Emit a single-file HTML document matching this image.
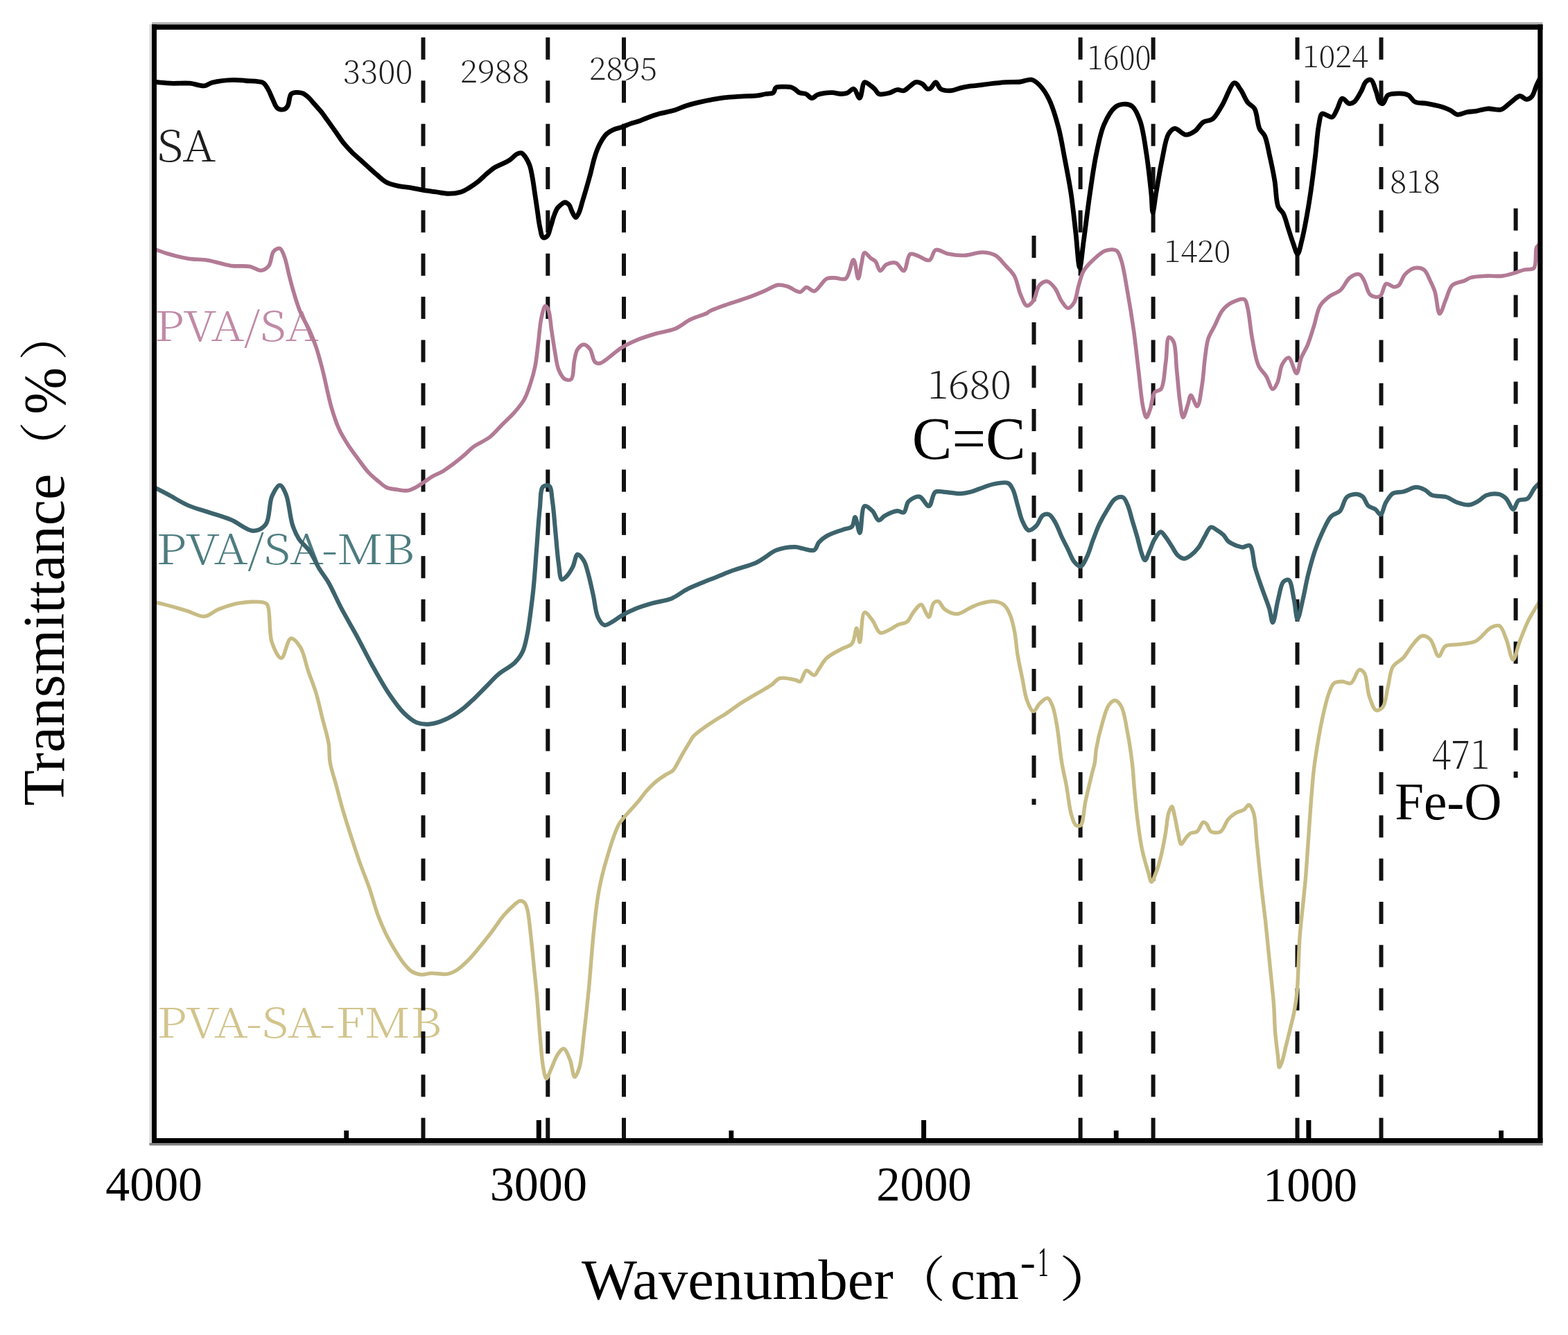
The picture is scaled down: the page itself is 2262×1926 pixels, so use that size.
<!DOCTYPE html>
<html><head><meta charset="utf-8"><title>FTIR spectra</title>
<style>html,body{margin:0;padding:0;background:#fff;} svg{display:block;}</style></head>
<body>
<svg xmlns="http://www.w3.org/2000/svg" width="2262" height="1926" viewBox="0 0 2262 1926">
<rect width="2262" height="1926" fill="#fff"/>
<text transform="translate(226.75 233.07) scale(0.6708 0.6171)" font-family="'Noto Serif CJK SC', 'Liberation Serif', serif" font-size="100" font-weight="300" fill="#1e1e1e">SA</text>
<text transform="translate(222.98 491.51) scale(0.6705 0.5934)" font-family="'Noto Serif CJK SC', 'Liberation Serif', serif" font-size="100" font-weight="300" fill="#c08aa6">PVA/SA</text>
<text transform="translate(225.60 813.51) scale(0.6833 0.5974)" font-family="'Noto Serif CJK SC', 'Liberation Serif', serif" font-size="100" font-weight="300" fill="#4d7c80">PVA/SA-MB</text>
<text transform="translate(226.22 1496.93) scale(0.6795 0.5868)" font-family="'Noto Serif CJK SC', 'Liberation Serif', serif" font-size="100" font-weight="300" fill="#d2c48c">PVA-SA-FMB</text>
<text transform="translate(494.84 119.84) scale(0.4711 0.4556)" font-family="'Noto Serif CJK SC', 'Liberation Serif', serif" font-size="100" font-weight="200" fill="#1e1e1e">3300</text>
<text transform="translate(664.07 119.11) scale(0.4660 0.4452)" font-family="'Noto Serif CJK SC', 'Liberation Serif', serif" font-size="100" font-weight="200" fill="#1e1e1e">2988</text>
<text transform="translate(850.01 115.40) scale(0.4581 0.4493)" font-family="'Noto Serif CJK SC', 'Liberation Serif', serif" font-size="100" font-weight="200" fill="#1e1e1e">2895</text>
<text transform="translate(1568.42 99.83) scale(0.4310 0.4722)" font-family="'Noto Serif CJK SC', 'Liberation Serif', serif" font-size="100" font-weight="200" fill="#1e1e1e">1600</text>
<text transform="translate(1878.90 97.43) scale(0.4443 0.4342)" font-family="'Noto Serif CJK SC', 'Liberation Serif', serif" font-size="100" font-weight="200" fill="#1e1e1e">1024</text>
<text transform="translate(1679.15 378.13) scale(0.4505 0.4342)" font-family="'Noto Serif CJK SC', 'Liberation Serif', serif" font-size="100" font-weight="200" fill="#1e1e1e">1420</text>
<text transform="translate(2004.92 278.16) scale(0.4553 0.4389)" font-family="'Noto Serif CJK SC', 'Liberation Serif', serif" font-size="100" font-weight="200" fill="#1e1e1e">818</text>
<text transform="translate(1338.00 575.45) scale(0.5670 0.5514)" font-family="'Noto Serif CJK SC', 'Liberation Serif', serif" font-size="100" font-weight="200" fill="#1e1e1e">1680</text>
<text transform="translate(1315.85 661.57) scale(0.8628 0.8627)" font-family="'Liberation Serif', 'Noto Serif CJK SC', serif" font-size="100" fill="#000">C=C</text>
<text transform="translate(2065.33 1108.87) scale(0.5245 0.5671)" font-family="'Noto Serif CJK SC', 'Liberation Serif', serif" font-size="100" font-weight="200" fill="#1e1e1e">471</text>
<text transform="translate(2012.25 1181.67) scale(0.7510 0.7642)" font-family="'Liberation Serif', 'Noto Serif CJK SC', serif" font-size="100" fill="#000">Fe-O</text>
<text transform="translate(152.20 1732.29) scale(0.6995 0.7045)" font-family="'Liberation Serif', 'Noto Serif CJK SC', serif" font-size="100" fill="#000">4000</text>
<text transform="translate(706.79 1732.30) scale(0.7010 0.7015)" font-family="'Liberation Serif', 'Noto Serif CJK SC', serif" font-size="100" fill="#000">3000</text>
<text transform="translate(1264.15 1732.30) scale(0.6880 0.7015)" font-family="'Liberation Serif', 'Noto Serif CJK SC', serif" font-size="100" fill="#000">2000</text>
<text transform="translate(1822.29 1733.29) scale(0.6786 0.7029)" font-family="'Liberation Serif', 'Noto Serif CJK SC', serif" font-size="100" fill="#000">1000</text>
<text transform="translate(839.10 1874.34) scale(0.8474 0.8310)" font-family="'Liberation Serif', 'Noto Serif CJK SC', serif" font-size="100" fill="#000">Wavenumber</text>
<text transform="translate(1287.06 1871.46) scale(0.7714 0.7043)" font-family="'Liberation Serif', 'Noto Serif CJK SC', serif" font-size="100" fill="#000">（</text>
<text transform="translate(1371.07 1873.68) scale(0.8085 0.8167)" font-family="'Liberation Serif', 'Noto Serif CJK SC', serif" font-size="100" fill="#000">cm</text>
<text transform="translate(1471.59 1841.40) scale(0.6769 0.6000)" font-family="'Liberation Serif', 'Noto Serif CJK SC', serif" font-size="100" fill="#000">-</text>
<text transform="translate(1497.22 1841.40) scale(0.3086 0.6045)" font-family="'Liberation Serif', 'Noto Serif CJK SC', serif" font-size="100" fill="#000">1</text>
<text transform="translate(1527.55 1871.46) scale(0.8929 0.7043)" font-family="'Liberation Serif', 'Noto Serif CJK SC', serif" font-size="100" fill="#000">）</text>
<text transform="translate(91.76 1162.38) rotate(-90) scale(0.8425 0.8394)" font-family="'Liberation Serif', 'Noto Serif CJK SC', serif" font-size="100" fill="#000">Transmittance</text>
<text transform="translate(89.29 682.82) rotate(-90) scale(0.7464 0.7011)" font-family="'Liberation Serif', 'Noto Serif CJK SC', serif" font-size="100" fill="#000">（</text>
<text transform="translate(93.85 597.64) rotate(-90) scale(0.8130 0.8746)" font-family="'Liberation Serif', 'Noto Serif CJK SC', serif" font-size="100" fill="#000">%</text>
<text transform="translate(89.29 520.23) rotate(-90) scale(0.7464 0.7011)" font-family="'Liberation Serif', 'Noto Serif CJK SC', serif" font-size="100" fill="#000">）</text>
<g fill="#111">
<rect x="607.5" y="54.0" width="6" height="32.0"/>
<rect x="607.5" y="116.3" width="6" height="32.0"/>
<rect x="607.5" y="178.7" width="6" height="32.0"/>
<rect x="607.5" y="241.0" width="6" height="32.0"/>
<rect x="607.5" y="303.4" width="6" height="32.0"/>
<rect x="607.5" y="365.8" width="6" height="32.0"/>
<rect x="607.5" y="428.1" width="6" height="32.0"/>
<rect x="607.5" y="490.5" width="6" height="32.0"/>
<rect x="607.5" y="552.8" width="6" height="32.0"/>
<rect x="607.5" y="615.2" width="6" height="32.0"/>
<rect x="607.5" y="677.5" width="6" height="32.0"/>
<rect x="607.5" y="739.9" width="6" height="32.0"/>
<rect x="607.5" y="802.2" width="6" height="32.0"/>
<rect x="607.5" y="864.6" width="6" height="32.0"/>
<rect x="607.5" y="926.9" width="6" height="32.0"/>
<rect x="607.5" y="989.3" width="6" height="32.0"/>
<rect x="607.5" y="1051.6" width="6" height="32.0"/>
<rect x="607.5" y="1114.0" width="6" height="32.0"/>
<rect x="607.5" y="1176.3" width="6" height="32.0"/>
<rect x="607.5" y="1238.6" width="6" height="32.0"/>
<rect x="607.5" y="1301.0" width="6" height="32.0"/>
<rect x="607.5" y="1363.3" width="6" height="32.0"/>
<rect x="607.5" y="1425.7" width="6" height="32.0"/>
<rect x="607.5" y="1488.0" width="6" height="32.0"/>
<rect x="607.5" y="1550.4" width="6" height="32.0"/>
<rect x="607.5" y="1612.7" width="6" height="29.3"/>
<rect x="787.3" y="54.0" width="6" height="32.0"/>
<rect x="787.3" y="116.3" width="6" height="32.0"/>
<rect x="787.3" y="178.7" width="6" height="32.0"/>
<rect x="787.3" y="241.0" width="6" height="32.0"/>
<rect x="787.3" y="303.4" width="6" height="32.0"/>
<rect x="787.3" y="365.8" width="6" height="32.0"/>
<rect x="787.3" y="428.1" width="6" height="32.0"/>
<rect x="787.3" y="490.5" width="6" height="32.0"/>
<rect x="787.3" y="552.8" width="6" height="32.0"/>
<rect x="787.3" y="615.2" width="6" height="32.0"/>
<rect x="787.3" y="677.5" width="6" height="32.0"/>
<rect x="787.3" y="739.9" width="6" height="32.0"/>
<rect x="787.3" y="802.2" width="6" height="32.0"/>
<rect x="787.3" y="864.6" width="6" height="32.0"/>
<rect x="787.3" y="926.9" width="6" height="32.0"/>
<rect x="787.3" y="989.3" width="6" height="32.0"/>
<rect x="787.3" y="1051.6" width="6" height="32.0"/>
<rect x="787.3" y="1114.0" width="6" height="32.0"/>
<rect x="787.3" y="1176.3" width="6" height="32.0"/>
<rect x="787.3" y="1238.6" width="6" height="32.0"/>
<rect x="787.3" y="1301.0" width="6" height="32.0"/>
<rect x="787.3" y="1363.3" width="6" height="32.0"/>
<rect x="787.3" y="1425.7" width="6" height="32.0"/>
<rect x="787.3" y="1488.0" width="6" height="32.0"/>
<rect x="787.3" y="1550.4" width="6" height="32.0"/>
<rect x="787.3" y="1612.7" width="6" height="29.3"/>
<rect x="897.0" y="54.0" width="6" height="32.0"/>
<rect x="897.0" y="116.3" width="6" height="32.0"/>
<rect x="897.0" y="178.7" width="6" height="32.0"/>
<rect x="897.0" y="241.0" width="6" height="32.0"/>
<rect x="897.0" y="303.4" width="6" height="32.0"/>
<rect x="897.0" y="365.8" width="6" height="32.0"/>
<rect x="897.0" y="428.1" width="6" height="32.0"/>
<rect x="897.0" y="490.5" width="6" height="32.0"/>
<rect x="897.0" y="552.8" width="6" height="32.0"/>
<rect x="897.0" y="615.2" width="6" height="32.0"/>
<rect x="897.0" y="677.5" width="6" height="32.0"/>
<rect x="897.0" y="739.9" width="6" height="32.0"/>
<rect x="897.0" y="802.2" width="6" height="32.0"/>
<rect x="897.0" y="864.6" width="6" height="32.0"/>
<rect x="897.0" y="926.9" width="6" height="32.0"/>
<rect x="897.0" y="989.3" width="6" height="32.0"/>
<rect x="897.0" y="1051.6" width="6" height="32.0"/>
<rect x="897.0" y="1114.0" width="6" height="32.0"/>
<rect x="897.0" y="1176.3" width="6" height="32.0"/>
<rect x="897.0" y="1238.6" width="6" height="32.0"/>
<rect x="897.0" y="1301.0" width="6" height="32.0"/>
<rect x="897.0" y="1363.3" width="6" height="32.0"/>
<rect x="897.0" y="1425.7" width="6" height="32.0"/>
<rect x="897.0" y="1488.0" width="6" height="32.0"/>
<rect x="897.0" y="1550.4" width="6" height="32.0"/>
<rect x="897.0" y="1612.7" width="6" height="29.3"/>
<rect x="1555.6" y="54.0" width="6" height="32.0"/>
<rect x="1555.6" y="116.3" width="6" height="32.0"/>
<rect x="1555.6" y="178.7" width="6" height="32.0"/>
<rect x="1555.6" y="241.0" width="6" height="32.0"/>
<rect x="1555.6" y="303.4" width="6" height="32.0"/>
<rect x="1555.6" y="365.8" width="6" height="32.0"/>
<rect x="1555.6" y="428.1" width="6" height="32.0"/>
<rect x="1555.6" y="490.5" width="6" height="32.0"/>
<rect x="1555.6" y="552.8" width="6" height="32.0"/>
<rect x="1555.6" y="615.2" width="6" height="32.0"/>
<rect x="1555.6" y="677.5" width="6" height="32.0"/>
<rect x="1555.6" y="739.9" width="6" height="32.0"/>
<rect x="1555.6" y="802.2" width="6" height="32.0"/>
<rect x="1555.6" y="864.6" width="6" height="32.0"/>
<rect x="1555.6" y="926.9" width="6" height="32.0"/>
<rect x="1555.6" y="989.3" width="6" height="32.0"/>
<rect x="1555.6" y="1051.6" width="6" height="32.0"/>
<rect x="1555.6" y="1114.0" width="6" height="32.0"/>
<rect x="1555.6" y="1176.3" width="6" height="32.0"/>
<rect x="1555.6" y="1238.6" width="6" height="32.0"/>
<rect x="1555.6" y="1301.0" width="6" height="32.0"/>
<rect x="1555.6" y="1363.3" width="6" height="32.0"/>
<rect x="1555.6" y="1425.7" width="6" height="32.0"/>
<rect x="1555.6" y="1488.0" width="6" height="32.0"/>
<rect x="1555.6" y="1550.4" width="6" height="32.0"/>
<rect x="1555.6" y="1612.7" width="6" height="29.3"/>
<rect x="1660.6" y="54.0" width="6" height="32.0"/>
<rect x="1660.6" y="116.3" width="6" height="32.0"/>
<rect x="1660.6" y="178.7" width="6" height="32.0"/>
<rect x="1660.6" y="241.0" width="6" height="32.0"/>
<rect x="1660.6" y="303.4" width="6" height="32.0"/>
<rect x="1660.6" y="365.8" width="6" height="32.0"/>
<rect x="1660.6" y="428.1" width="6" height="32.0"/>
<rect x="1660.6" y="490.5" width="6" height="32.0"/>
<rect x="1660.6" y="552.8" width="6" height="32.0"/>
<rect x="1660.6" y="615.2" width="6" height="32.0"/>
<rect x="1660.6" y="677.5" width="6" height="32.0"/>
<rect x="1660.6" y="739.9" width="6" height="32.0"/>
<rect x="1660.6" y="802.2" width="6" height="32.0"/>
<rect x="1660.6" y="864.6" width="6" height="32.0"/>
<rect x="1660.6" y="926.9" width="6" height="32.0"/>
<rect x="1660.6" y="989.3" width="6" height="32.0"/>
<rect x="1660.6" y="1051.6" width="6" height="32.0"/>
<rect x="1660.6" y="1114.0" width="6" height="32.0"/>
<rect x="1660.6" y="1176.3" width="6" height="32.0"/>
<rect x="1660.6" y="1238.6" width="6" height="32.0"/>
<rect x="1660.6" y="1301.0" width="6" height="32.0"/>
<rect x="1660.6" y="1363.3" width="6" height="32.0"/>
<rect x="1660.6" y="1425.7" width="6" height="32.0"/>
<rect x="1660.6" y="1488.0" width="6" height="32.0"/>
<rect x="1660.6" y="1550.4" width="6" height="32.0"/>
<rect x="1660.6" y="1612.7" width="6" height="29.3"/>
<rect x="1868.5" y="54.0" width="6" height="32.0"/>
<rect x="1868.5" y="116.3" width="6" height="32.0"/>
<rect x="1868.5" y="178.7" width="6" height="32.0"/>
<rect x="1868.5" y="241.0" width="6" height="32.0"/>
<rect x="1868.5" y="303.4" width="6" height="32.0"/>
<rect x="1868.5" y="365.8" width="6" height="32.0"/>
<rect x="1868.5" y="428.1" width="6" height="32.0"/>
<rect x="1868.5" y="490.5" width="6" height="32.0"/>
<rect x="1868.5" y="552.8" width="6" height="32.0"/>
<rect x="1868.5" y="615.2" width="6" height="32.0"/>
<rect x="1868.5" y="677.5" width="6" height="32.0"/>
<rect x="1868.5" y="739.9" width="6" height="32.0"/>
<rect x="1868.5" y="802.2" width="6" height="32.0"/>
<rect x="1868.5" y="864.6" width="6" height="32.0"/>
<rect x="1868.5" y="926.9" width="6" height="32.0"/>
<rect x="1868.5" y="989.3" width="6" height="32.0"/>
<rect x="1868.5" y="1051.6" width="6" height="32.0"/>
<rect x="1868.5" y="1114.0" width="6" height="32.0"/>
<rect x="1868.5" y="1176.3" width="6" height="32.0"/>
<rect x="1868.5" y="1238.6" width="6" height="32.0"/>
<rect x="1868.5" y="1301.0" width="6" height="32.0"/>
<rect x="1868.5" y="1363.3" width="6" height="32.0"/>
<rect x="1868.5" y="1425.7" width="6" height="32.0"/>
<rect x="1868.5" y="1488.0" width="6" height="32.0"/>
<rect x="1868.5" y="1550.4" width="6" height="32.0"/>
<rect x="1868.5" y="1612.7" width="6" height="29.3"/>
<rect x="1989.5" y="54.0" width="6" height="32.0"/>
<rect x="1989.5" y="116.3" width="6" height="32.0"/>
<rect x="1989.5" y="178.7" width="6" height="32.0"/>
<rect x="1989.5" y="241.0" width="6" height="32.0"/>
<rect x="1989.5" y="303.4" width="6" height="32.0"/>
<rect x="1989.5" y="365.8" width="6" height="32.0"/>
<rect x="1989.5" y="428.1" width="6" height="32.0"/>
<rect x="1989.5" y="490.5" width="6" height="32.0"/>
<rect x="1989.5" y="552.8" width="6" height="32.0"/>
<rect x="1989.5" y="615.2" width="6" height="32.0"/>
<rect x="1989.5" y="677.5" width="6" height="32.0"/>
<rect x="1989.5" y="739.9" width="6" height="32.0"/>
<rect x="1989.5" y="802.2" width="6" height="32.0"/>
<rect x="1989.5" y="864.6" width="6" height="32.0"/>
<rect x="1989.5" y="926.9" width="6" height="32.0"/>
<rect x="1989.5" y="989.3" width="6" height="32.0"/>
<rect x="1989.5" y="1051.6" width="6" height="32.0"/>
<rect x="1989.5" y="1114.0" width="6" height="32.0"/>
<rect x="1989.5" y="1176.3" width="6" height="32.0"/>
<rect x="1989.5" y="1238.6" width="6" height="32.0"/>
<rect x="1989.5" y="1301.0" width="6" height="32.0"/>
<rect x="1989.5" y="1363.3" width="6" height="32.0"/>
<rect x="1989.5" y="1425.7" width="6" height="32.0"/>
<rect x="1989.5" y="1488.0" width="6" height="32.0"/>
<rect x="1989.5" y="1550.4" width="6" height="32.0"/>
<rect x="1989.5" y="1612.7" width="6" height="29.3"/>
<rect x="1488.5" y="340.0" width="6" height="32.0"/>
<rect x="1488.5" y="402.5" width="6" height="32.0"/>
<rect x="1488.5" y="465.0" width="6" height="32.0"/>
<rect x="1488.5" y="527.5" width="6" height="32.0"/>
<rect x="1488.5" y="590.0" width="6" height="32.0"/>
<rect x="1488.5" y="652.5" width="6" height="32.0"/>
<rect x="1488.5" y="715.0" width="6" height="32.0"/>
<rect x="1488.5" y="777.5" width="6" height="32.0"/>
<rect x="1488.5" y="840.0" width="6" height="32.0"/>
<rect x="1488.5" y="902.5" width="6" height="32.0"/>
<rect x="1488.5" y="965.0" width="6" height="32.0"/>
<rect x="1488.5" y="1027.5" width="6" height="32.0"/>
<rect x="1488.5" y="1090.0" width="6" height="32.0"/>
<rect x="1488.5" y="1152.5" width="6" height="8.5"/>
<rect x="2183.6" y="300.6" width="6" height="32.0"/>
<rect x="2183.6" y="363.1" width="6" height="32.0"/>
<rect x="2183.6" y="425.6" width="6" height="32.0"/>
<rect x="2183.6" y="488.1" width="6" height="32.0"/>
<rect x="2183.6" y="550.6" width="6" height="32.0"/>
<rect x="2183.6" y="613.1" width="6" height="32.0"/>
<rect x="2183.6" y="675.6" width="6" height="32.0"/>
<rect x="2183.6" y="738.1" width="6" height="32.0"/>
<rect x="2183.6" y="800.6" width="6" height="32.0"/>
<rect x="2183.6" y="863.1" width="6" height="32.0"/>
<rect x="2183.6" y="925.6" width="6" height="32.0"/>
<rect x="2183.6" y="988.1" width="6" height="32.0"/>
<rect x="2183.6" y="1050.6" width="6" height="32.0"/>
<rect x="2183.6" y="1113.1" width="6" height="8.9"/>
</g>
<path d="M223.4,868.9 C223.4,868.9 235.7,871.7 242.7,873.5 C251.0,875.7 261.0,878.7 269.9,881.4 C278.4,884.0 287.0,889.9 294.8,889.3 C302.1,888.7 307.6,882.1 315.2,879.1 C324.0,875.6 334.4,871.8 344.7,870.1 C355.5,868.3 371.8,867.4 378.7,868.9 C382.0,869.6 383.6,869.6 385.5,872.3 C390.6,879.4 387.5,912.9 392.3,926.8 C395.6,936.4 401.5,949.6 405.9,949.4 C410.6,949.2 414.2,922.1 419.5,921.1 C423.6,920.3 429.4,927.8 433.2,933.6 C438.5,941.7 440.7,956.5 444.5,967.6 C448.2,978.4 452.5,988.3 455.8,999.3 C459.3,1010.9 461.9,1023.5 464.9,1035.6 C467.9,1047.7 472.1,1060.5 474.0,1071.9 C475.6,1081.8 474.5,1090.3 476.2,1100.0 C478.1,1110.9 482.3,1122.7 485.3,1134.0 C488.3,1145.3 491.1,1156.5 494.4,1168.0 C497.9,1179.9 501.7,1191.9 505.7,1204.3 C510.0,1217.5 514.6,1231.9 519.3,1245.1 C523.7,1257.6 528.7,1269.2 532.9,1281.4 C537.0,1293.4 540.2,1306.6 544.3,1317.7 C547.9,1327.5 551.4,1336.1 555.6,1344.9 C559.7,1353.5 564.5,1362.0 569.2,1369.8 C573.6,1377.0 578.2,1384.6 582.8,1390.2 C586.5,1394.8 589.8,1398.9 594.1,1401.6 C598.2,1404.1 603.1,1405.7 607.8,1406.1 C612.6,1406.5 617.2,1404.3 622.7,1404.1 C629.5,1403.8 638.9,1406.3 645.4,1405.2 C650.6,1404.3 654.5,1402.3 659.0,1399.5 C664.3,1396.2 669.7,1391.0 674.8,1385.9 C680.3,1380.5 685.3,1374.2 690.7,1367.8 C696.6,1360.7 702.8,1352.9 708.8,1345.1 C714.9,1337.1 721.1,1327.1 727.0,1320.2 C731.6,1314.8 736.4,1310.2 740.6,1306.6 C743.8,1303.8 746.8,1300.3 749.7,1299.8 C752.0,1299.4 754.7,1300.3 756.5,1302.0 C758.8,1304.2 759.7,1308.5 761.0,1313.4 C763.1,1321.6 764.1,1335.2 765.5,1347.4 C767.1,1361.4 768.6,1377.6 770.1,1392.7 C771.6,1407.8 773.2,1422.1 774.6,1438.1 C776.2,1455.9 777.5,1477.0 779.1,1494.8 C780.5,1510.8 781.6,1528.9 783.7,1540.1 C785.0,1546.8 786.3,1555.8 788.2,1556.0 C790.1,1556.2 792.6,1547.4 795.0,1542.4 C797.9,1536.3 800.5,1527.2 804.1,1522.0 C806.8,1518.0 810.4,1512.5 813.2,1512.9 C816.5,1513.4 819.7,1522.7 822.2,1528.8 C825.2,1536.0 826.3,1553.4 829.0,1553.7 C831.0,1553.9 833.9,1546.3 835.8,1540.1 C839.3,1528.9 840.5,1507.8 842.6,1490.2 C845.0,1470.3 847.2,1449.1 849.4,1426.8 C851.8,1401.8 853.7,1371.6 856.2,1347.4 C858.3,1326.9 860.0,1308.0 863.0,1290.7 C865.5,1275.9 868.0,1264.7 872.1,1249.9 C877.2,1231.7 886.2,1201.7 892.4,1189.9 C895.4,1184.3 897.9,1182.3 900.9,1178.6 C904.0,1174.8 907.5,1171.2 910.9,1167.3 C914.6,1163.2 918.6,1158.8 922.2,1154.5 C925.7,1150.3 928.3,1145.9 932.1,1141.7 C936.3,1137.0 941.4,1131.7 946.3,1127.6 C950.9,1123.8 956.1,1120.4 960.5,1117.6 C964.0,1115.4 967.8,1114.4 970.4,1112.0 C972.9,1109.7 974.1,1106.8 976.1,1103.5 C978.7,1099.1 981.7,1092.9 984.6,1087.9 C987.4,1083.0 990.4,1078.1 993.1,1073.7 C995.6,1069.7 997.3,1065.7 1000.2,1062.4 C1003.0,1059.1 1006.4,1056.8 1010.1,1053.9 C1014.3,1050.6 1019.4,1047.2 1024.3,1043.9 C1029.4,1040.5 1036.1,1036.3 1040.0,1034.0 C1042.3,1032.6 1043.0,1032.4 1045.4,1030.9 C1050.4,1027.7 1060.4,1020.0 1068.0,1015.0 C1075.5,1010.1 1083.1,1005.9 1090.7,1001.4 C1098.3,996.9 1107.3,992.1 1113.4,987.8 C1117.9,984.6 1119.9,980.1 1124.7,978.7 C1130.7,976.9 1142.1,979.8 1147.4,981.0 C1150.4,981.6 1152.1,984.1 1154.2,983.3 C1157.6,982.0 1159.5,968.4 1163.3,967.4 C1166.5,966.6 1171.5,974.8 1174.6,974.2 C1177.5,973.6 1178.9,968.6 1181.4,965.1 C1184.7,960.6 1187.7,953.9 1192.7,949.3 C1198.6,943.9 1208.7,939.3 1215.4,935.6 C1220.4,932.8 1225.7,932.7 1229.0,928.8 C1233.1,923.9 1233.9,906.1 1235.8,906.2 C1237.6,906.3 1238.9,926.7 1240.4,926.6 C1242.6,926.5 1242.5,885.0 1247.2,883.5 C1250.1,882.6 1255.0,890.4 1258.5,894.8 C1262.6,900.0 1265.1,911.3 1269.8,913.0 C1273.7,914.4 1279.2,910.4 1283.4,908.4 C1287.5,906.5 1290.7,903.5 1294.8,901.6 C1299.0,899.7 1304.7,899.9 1308.4,897.1 C1312.4,894.1 1314.1,887.7 1317.5,883.5 C1320.9,879.4 1325.7,871.8 1328.8,872.2 C1331.6,872.5 1333.5,880.2 1335.6,883.5 C1337.2,886.1 1338.6,890.5 1340.1,890.3 C1342.5,890.0 1343.6,873.2 1346.9,869.9 C1348.8,868.0 1351.5,867.0 1353.7,867.6 C1356.8,868.5 1358.7,876.1 1362.8,879.0 C1367.5,882.4 1374.9,886.1 1381.0,885.8 C1387.3,885.5 1394.2,879.3 1400.0,876.7 C1404.9,874.5 1408.5,872.5 1413.6,871.0 C1419.6,869.3 1427.9,867.1 1434.0,867.6 C1439.0,868.0 1443.9,869.4 1447.6,872.2 C1451.6,875.2 1454.2,880.3 1456.7,885.8 C1459.8,892.6 1461.7,901.7 1463.5,910.7 C1465.6,921.1 1466.1,933.4 1468.0,944.7 C1469.9,956.1 1472.5,967.6 1474.8,978.7 C1477.0,989.5 1478.3,1001.9 1481.6,1010.5 C1484.1,1016.9 1487.5,1026.0 1490.7,1026.3 C1493.6,1026.5 1496.3,1018.2 1499.8,1015.0 C1503.2,1011.9 1508.0,1006.5 1511.1,1007.1 C1514.0,1007.6 1516.0,1012.8 1517.9,1017.3 C1521.0,1024.4 1522.7,1035.5 1524.7,1046.8 C1527.4,1061.9 1529.1,1084.3 1531.7,1100.0 C1533.8,1112.6 1536.3,1122.1 1538.5,1134.0 C1540.9,1147.0 1542.4,1164.5 1545.4,1174.8 C1547.4,1181.5 1549.1,1188.7 1552.2,1190.7 C1554.1,1192.0 1557.1,1192.2 1559.0,1190.7 C1563.2,1187.2 1563.3,1168.4 1565.8,1156.7 C1568.5,1144.2 1572.3,1128.5 1574.8,1118.1 C1576.5,1110.9 1578.3,1106.2 1579.4,1100.0 C1580.5,1093.7 1580.1,1088.3 1581.4,1080.8 C1583.2,1070.1 1587.1,1053.6 1590.5,1042.2 C1593.3,1032.9 1595.5,1022.7 1599.5,1017.3 C1602.1,1013.8 1605.7,1010.3 1608.6,1010.5 C1611.7,1010.7 1615.1,1014.9 1617.7,1019.5 C1622.2,1027.5 1624.2,1044.7 1626.8,1058.1 C1629.6,1072.5 1632.0,1089.8 1633.6,1103.4 C1634.9,1114.6 1635.1,1122.8 1636.1,1134.0 C1637.3,1147.7 1638.7,1164.3 1640.6,1179.4 C1642.5,1194.5 1644.5,1210.8 1647.4,1224.7 C1649.9,1236.9 1653.9,1249.9 1656.5,1258.7 C1658.2,1264.3 1659.2,1272.2 1661.0,1272.3 C1662.9,1272.4 1665.7,1263.9 1667.8,1258.7 C1670.4,1252.2 1672.5,1244.5 1674.6,1236.1 C1677.1,1226.0 1679.5,1213.0 1681.4,1202.0 C1683.2,1191.9 1683.7,1179.5 1685.9,1172.6 C1687.2,1168.6 1689.1,1163.4 1690.5,1163.5 C1692.3,1163.7 1693.6,1173.6 1695.0,1179.4 C1696.6,1186.2 1697.8,1195.2 1699.5,1202.0 C1700.9,1207.8 1701.9,1217.5 1704.1,1217.9 C1705.9,1218.2 1708.5,1211.5 1710.9,1208.8 C1713.1,1206.3 1715.0,1203.5 1717.7,1202.0 C1720.3,1200.5 1724.1,1201.7 1726.8,1199.8 C1730.4,1197.3 1733.0,1187.0 1735.8,1186.2 C1737.4,1185.8 1738.9,1187.0 1740.4,1188.4 C1742.8,1190.6 1743.8,1197.9 1747.2,1199.8 C1750.6,1201.7 1756.9,1201.9 1760.8,1199.8 C1765.6,1197.1 1767.9,1186.3 1772.1,1181.6 C1775.6,1177.7 1779.4,1174.9 1783.4,1172.6 C1787.0,1170.5 1791.7,1170.1 1794.8,1168.0 C1797.6,1166.2 1799.5,1160.9 1801.6,1161.2 C1804.1,1161.5 1806.6,1167.4 1808.4,1172.6 C1811.5,1181.8 1811.3,1198.1 1812.9,1213.4 C1815.0,1232.8 1817.4,1259.3 1819.7,1279.8 C1821.7,1297.5 1823.9,1313.8 1825.6,1329.4 C1827.1,1343.3 1828.3,1355.8 1829.6,1369.0 C1830.9,1382.2 1832.3,1395.5 1833.6,1408.7 C1834.9,1421.9 1836.5,1435.2 1837.5,1448.4 C1838.5,1461.6 1838.5,1475.2 1839.5,1488.1 C1840.5,1500.3 1842.4,1514.3 1843.5,1523.8 C1844.3,1530.2 1844.2,1539.5 1845.5,1539.7 C1846.5,1539.9 1848.1,1535.2 1849.4,1531.7 C1851.5,1526.0 1853.4,1515.8 1855.4,1507.9 C1857.4,1500.0 1859.4,1492.2 1861.3,1484.1 C1863.3,1475.7 1865.7,1467.2 1867.3,1458.3 C1869.0,1448.8 1870.3,1439.2 1871.3,1428.6 C1872.4,1416.3 1872.6,1402.1 1873.3,1388.9 C1873.9,1375.7 1874.2,1362.4 1875.2,1349.2 C1876.2,1336.0 1877.9,1322.7 1879.2,1309.5 C1880.5,1296.3 1881.6,1287.4 1883.2,1269.8 C1886.3,1234.7 1890.9,1149.9 1895.1,1112.5 C1897.5,1091.6 1899.8,1078.8 1902.4,1063.8 C1904.7,1050.7 1907.1,1038.4 1909.7,1027.2 C1912.0,1017.5 1914.1,1007.9 1917.0,1000.4 C1919.2,994.7 1920.7,988.6 1924.3,985.8 C1927.5,983.4 1932.4,983.3 1936.5,983.3 C1940.6,983.3 1945.1,987.3 1948.7,985.8 C1953.6,983.7 1956.9,967.2 1960.9,966.3 C1963.4,965.8 1966.2,968.1 1968.2,971.1 C1972.3,977.0 1972.1,995.7 1975.5,1005.3 C1978.2,1012.9 1981.3,1023.5 1985.3,1024.8 C1988.1,1025.7 1992.4,1023.1 1995.0,1019.9 C1999.3,1014.5 1999.9,1000.4 2002.3,990.6 C2004.7,980.9 2005.1,968.6 2009.6,961.4 C2013.2,955.7 2019.9,953.9 2024.3,949.2 C2028.9,944.2 2032.0,937.4 2036.5,932.1 C2041.0,926.8 2046.1,918.5 2051.1,917.5 C2055.1,916.7 2059.7,919.1 2063.3,922.4 C2068.4,927.1 2071.5,946.6 2075.5,946.8 C2078.7,947.0 2080.5,935.0 2085.2,932.1 C2090.1,929.1 2097.9,930.8 2104.7,929.7 C2112.4,928.5 2121.6,928.5 2129.1,924.8 C2137.2,920.8 2144.3,908.6 2151.0,905.3 C2155.3,903.1 2159.8,901.2 2163.2,902.9 C2167.7,905.1 2170.0,915.1 2173.0,922.4 C2176.6,931.0 2179.4,951.6 2182.7,951.6 C2185.9,951.6 2189.0,933.9 2192.5,924.8 C2196.2,915.2 2200.5,903.9 2204.6,895.6 C2207.8,889.0 2211.4,883.7 2214.4,878.5 C2217.0,874.1 2221.7,866.3 2221.7,866.3" fill="none" stroke="#c8bc85" stroke-width="5.4" stroke-linejoin="round" stroke-linecap="round"/>
<path d="M223.4,703.4 C223.4,703.4 235.6,709.8 242.7,713.6 C251.5,718.3 262.4,725.3 272.2,729.5 C281.3,733.4 289.8,735.3 299.4,738.5 C310.1,742.1 322.4,745.3 333.4,749.9 C344.3,754.4 356.0,765.8 365.1,765.8 C372.0,765.8 378.9,762.4 383.3,756.7 C389.7,748.6 387.8,726.0 392.3,715.9 C395.4,709.0 400.2,699.9 403.7,700.0 C406.9,700.1 410.1,707.5 412.7,713.6 C416.9,723.7 418.1,745.1 421.8,756.7 C424.5,764.9 426.9,770.8 430.9,777.1 C435.1,783.7 442.0,788.4 446.8,795.2 C452.0,802.6 455.7,812.4 460.4,820.2 C464.8,827.4 469.4,832.7 474.0,840.6 C479.9,850.8 485.6,864.5 492.1,876.9 C499.1,890.2 507.3,903.9 514.8,917.7 C522.4,931.8 529.8,946.9 537.5,960.8 C544.9,974.1 552.2,987.5 560.1,999.3 C567.3,1010.0 575.1,1021.2 582.8,1028.8 C588.8,1034.7 594.5,1039.8 601.0,1042.4 C607.0,1044.8 613.4,1045.3 620.0,1044.7 C627.3,1044.1 635.3,1041.2 642.7,1037.9 C650.5,1034.5 658.5,1029.4 665.4,1024.3 C672.0,1019.5 677.6,1014.0 683.5,1008.4 C689.6,1002.6 695.6,996.2 701.6,990.2 C707.6,984.2 713.1,977.7 719.8,972.1 C726.7,966.3 736.5,962.0 742.4,956.2 C747.4,951.3 750.9,946.6 753.8,940.4 C757.2,933.3 758.8,924.1 760.6,915.4 C762.6,906.0 763.7,896.4 765.1,885.9 C766.7,873.9 768.3,861.5 769.7,847.4 C771.4,830.3 772.7,809.6 774.2,790.7 C775.7,771.8 776.9,750.1 778.7,734.0 C780.1,721.9 779.1,706.5 783.3,702.3 C785.5,700.1 790.1,699.5 792.3,701.1 C795.7,703.5 795.6,714.1 796.9,722.7 C798.8,735.0 799.9,752.9 801.4,768.0 C802.9,783.1 804.0,800.9 805.9,813.4 C807.2,822.3 807.5,834.9 810.5,836.1 C812.3,836.8 815.1,833.7 817.3,831.5 C820.4,828.4 823.7,822.9 826.3,817.9 C829.1,812.4 830.1,800.5 833.2,799.8 C835.7,799.3 839.7,804.8 842.2,808.8 C845.4,814.0 846.9,821.8 849.0,829.3 C851.5,838.2 853.6,848.7 855.8,858.7 C858.1,869.1 859.0,882.9 862.6,890.5 C865.0,895.6 868.1,900.9 871.7,901.8 C875.0,902.7 879.2,899.3 883.0,897.3 C887.4,895.0 891.6,891.1 896.6,888.2 C902.1,885.0 908.0,881.9 914.8,879.1 C922.9,875.8 932.9,872.7 942.0,870.1 C951.0,867.5 960.8,866.8 969.2,863.3 C977.4,859.9 983.0,854.2 991.9,849.7 C1003.6,843.8 1022.1,837.1 1034.0,832.3 C1042.7,828.8 1048.3,826.3 1056.7,823.2 C1066.8,819.5 1082.6,815.6 1090.7,811.9 C1095.6,809.6 1097.8,807.7 1102.0,805.1 C1107.4,801.8 1113.2,796.3 1120.2,793.7 C1128.1,790.7 1140.3,789.1 1147.4,789.2 C1152.0,789.3 1154.6,790.8 1158.7,791.5 C1163.5,792.3 1170.8,795.5 1174.6,793.7 C1178.1,792.0 1178.5,785.7 1181.4,782.4 C1184.5,778.9 1188.0,776.0 1192.7,773.3 C1198.8,769.8 1208.8,766.7 1215.4,764.3 C1220.5,762.4 1226.0,762.7 1229.0,759.7 C1232.0,756.7 1232.0,746.1 1233.6,746.1 C1235.7,746.1 1238.4,768.9 1240.4,768.8 C1243.0,768.6 1242.3,732.4 1247.2,730.2 C1250.1,728.9 1255.2,734.0 1258.5,737.1 C1262.1,740.6 1264.2,750.1 1267.6,750.7 C1270.4,751.2 1272.9,745.9 1276.6,743.9 C1281.5,741.2 1289.7,737.4 1294.8,737.1 C1298.3,736.9 1301.4,740.5 1303.9,739.3 C1307.2,737.6 1306.9,727.2 1310.7,723.4 C1314.5,719.6 1321.7,715.7 1326.5,716.6 C1331.6,717.6 1336.4,730.9 1340.1,730.2 C1344.1,729.5 1344.6,712.8 1349.2,709.8 C1352.8,707.5 1357.7,709.5 1362.8,709.8 C1369.4,710.1 1378.8,712.3 1385.5,712.1 C1390.9,711.9 1395.3,711.0 1400.0,709.8 C1404.7,708.6 1408.6,706.7 1413.6,705.0 C1419.7,702.9 1427.1,699.5 1434.0,698.2 C1440.7,696.9 1449.8,694.9 1454.4,697.1 C1457.9,698.7 1459.2,702.3 1461.2,706.2 C1464.1,711.9 1465.7,721.3 1468.0,728.8 C1470.3,736.4 1471.8,745.1 1474.8,751.5 C1477.3,756.8 1480.3,764.3 1483.9,765.1 C1487.2,765.8 1492.0,761.5 1495.2,758.3 C1498.9,754.6 1500.6,746.0 1504.3,743.6 C1507.0,741.9 1510.7,741.3 1513.4,742.4 C1516.9,743.8 1519.6,749.2 1522.4,753.8 C1525.8,759.4 1528.4,767.6 1531.5,774.2 C1534.5,780.4 1537.6,786.3 1540.6,792.3 C1543.6,798.4 1546.1,806.2 1549.7,810.5 C1552.4,813.7 1555.9,817.8 1558.7,817.3 C1562.1,816.7 1565.1,809.1 1567.8,803.7 C1571.3,796.8 1573.8,786.8 1576.9,778.7 C1579.9,771.0 1582.5,763.3 1585.9,756.1 C1589.3,749.0 1593.3,741.9 1597.3,735.6 C1600.9,729.9 1604.2,722.7 1608.6,719.8 C1612.0,717.6 1617.0,716.2 1620.0,717.5 C1623.2,718.9 1624.8,724.2 1626.8,728.8 C1629.5,734.9 1631.3,743.9 1633.6,751.5 C1635.9,759.1 1638.2,766.4 1640.4,774.2 C1642.7,782.3 1644.9,792.9 1647.2,799.1 C1648.7,803.0 1650.0,808.2 1651.7,808.2 C1653.7,808.2 1656.3,799.3 1658.5,794.6 C1660.8,789.5 1662.5,783.4 1665.3,778.7 C1667.9,774.4 1671.5,767.6 1674.4,767.4 C1676.8,767.3 1678.9,771.4 1681.2,774.2 C1684.2,777.8 1687.2,783.3 1690.2,787.8 C1693.2,792.3 1695.8,798.3 1699.3,801.4 C1702.0,803.8 1705.4,805.9 1708.4,805.9 C1711.4,805.9 1714.5,803.6 1717.5,801.4 C1721.3,798.7 1725.5,794.4 1728.8,790.1 C1732.4,785.5 1734.8,779.2 1737.9,774.2 C1740.8,769.4 1743.4,761.5 1746.9,760.6 C1749.6,759.9 1753.0,763.3 1756.0,765.1 C1759.1,767.0 1762.4,769.2 1765.1,771.9 C1767.8,774.5 1768.9,778.5 1771.9,781.0 C1775.4,783.9 1781.6,786.4 1785.5,787.8 C1788.2,788.8 1790.2,789.6 1792.8,789.6 C1795.9,789.6 1800.3,785.5 1803.0,787.1 C1807.8,790.0 1807.6,808.5 1810.6,819.0 C1813.6,829.4 1817.3,839.6 1820.8,849.6 C1824.1,859.2 1828.3,869.0 1831.0,877.7 C1833.2,885.0 1834.3,898.1 1836.1,898.1 C1838.4,898.1 1841.1,875.2 1843.8,864.9 C1846.2,855.8 1847.5,843.4 1851.4,839.4 C1853.6,837.2 1857.0,835.7 1859.1,836.8 C1863.2,839.0 1864.6,855.5 1866.7,864.9 C1868.8,874.2 1869.7,892.9 1871.8,893.0 C1873.9,893.1 1877.1,874.9 1879.5,864.9 C1882.2,853.7 1884.1,841.0 1887.1,829.2 C1890.1,817.2 1893.6,804.3 1897.3,793.5 C1900.5,784.2 1903.7,776.2 1907.6,768.0 C1911.4,760.0 1915.3,750.2 1920.3,745.0 C1924.1,741.1 1929.5,741.2 1933.1,737.3 C1937.5,732.5 1938.4,720.8 1943.3,716.9 C1947.4,713.6 1954.5,712.6 1958.6,713.1 C1961.6,713.4 1963.9,714.8 1966.2,716.9 C1969.2,719.7 1970.6,726.7 1973.9,729.7 C1976.8,732.3 1981.1,732.6 1984.1,734.8 C1987.0,736.9 1989.4,742.8 1991.7,742.4 C1994.7,741.8 1996.2,729.9 1999.4,724.6 C2002.3,719.8 2005.3,714.3 2009.6,711.8 C2013.8,709.3 2019.7,710.7 2024.9,709.3 C2030.7,707.8 2037.3,703.0 2042.8,702.9 C2047.4,702.8 2051.7,704.8 2055.5,706.7 C2059.3,708.6 2061.4,712.7 2065.7,714.4 C2071.1,716.6 2079.9,715.0 2086.1,716.9 C2091.7,718.6 2096.0,722.7 2101.4,724.6 C2107.0,726.6 2113.9,728.9 2119.3,728.4 C2124.0,728.0 2127.9,725.5 2132.0,723.3 C2136.4,720.9 2139.9,716.1 2144.8,714.4 C2150.0,712.5 2157.7,711.9 2162.7,713.1 C2166.8,714.1 2169.8,716.5 2172.9,719.5 C2176.7,723.2 2180.0,734.9 2183.1,734.8 C2185.9,734.7 2187.1,724.5 2190.7,722.0 C2194.1,719.6 2199.9,721.9 2203.5,719.5 C2207.8,716.6 2210.4,708.3 2213.7,704.2 C2216.3,701.0 2221.3,696.5 2221.3,696.5" fill="none" stroke="#3c636c" stroke-width="6.2" stroke-linejoin="round" stroke-linecap="round"/>
<path d="M223.4,359.5 C223.4,359.5 235.5,364.2 242.7,366.3 C251.4,368.9 262.5,371.7 272.2,373.2 C281.4,374.6 289.9,373.9 299.4,375.4 C310.2,377.1 322.6,381.9 333.4,383.4 C342.9,384.7 352.8,383.0 360.6,384.5 C366.7,385.7 371.8,390.7 376.5,390.2 C380.7,389.8 384.9,387.0 387.8,383.4 C391.5,378.8 391.1,367.0 394.6,362.9 C397.0,360.1 401.2,357.6 403.7,358.4 C406.7,359.3 408.5,365.8 410.5,370.9 C413.3,378.1 415.0,389.2 417.3,398.1 C419.5,406.6 421.5,414.6 424.1,423.0 C426.8,431.9 429.5,441.3 433.2,450.2 C437.0,459.4 442.9,468.8 446.8,477.5 C450.3,485.3 453.0,491.8 455.8,500.1 C459.1,509.7 461.7,519.7 464.9,531.9 C469.1,548.0 473.7,572.7 478.3,588.4 C481.7,599.9 484.5,608.8 488.6,617.9 C492.4,626.4 497.1,634.0 501.9,641.5 C506.5,648.7 511.6,655.4 516.6,662.1 C521.5,668.7 526.2,675.7 531.4,681.3 C536.1,686.4 541.4,690.7 546.1,694.6 C550.2,697.9 553.5,701.4 557.9,703.4 C562.4,705.4 567.8,705.6 572.7,706.3 C577.6,707.0 582.8,708.4 587.4,707.8 C591.6,707.3 595.4,705.3 599.2,703.4 C603.2,701.4 607.0,698.6 611.0,696.0 C615.3,693.2 619.6,689.9 624.2,687.2 C628.9,684.5 634.2,682.7 639.0,679.8 C644.0,676.8 648.8,673.1 653.7,669.5 C658.7,665.8 663.6,661.8 668.5,657.7 C673.5,653.5 677.5,648.6 683.2,644.4 C689.8,639.6 699.3,636.2 706.2,630.9 C713.0,625.7 718.3,618.8 724.3,612.7 C730.3,606.7 737.0,600.8 742.4,594.6 C747.5,588.7 752.4,583.2 756.1,576.5 C760.0,569.6 762.5,561.6 765.1,553.8 C767.8,545.7 770.1,537.8 771.9,528.8 C774.0,518.4 775.0,506.3 776.5,494.8 C778.0,482.9 778.8,468.2 781.0,458.5 C782.6,451.7 784.5,441.9 786.7,441.5 C788.1,441.3 790.0,444.3 791.2,447.2 C793.7,453.0 794.2,466.9 795.7,476.7 C797.2,486.5 798.6,496.6 800.3,506.2 C802.0,515.5 802.9,526.1 805.9,533.4 C808.2,539.0 811.4,545.1 815.0,547.0 C817.7,548.4 821.9,548.9 824.1,547.0 C828.0,543.7 826.8,527.6 828.6,519.8 C830.0,513.7 830.5,507.8 833.2,503.9 C835.4,500.7 839.2,497.1 842.2,497.1 C845.2,497.1 848.8,500.6 851.3,503.9 C854.5,508.2 854.9,518.9 858.1,522.0 C860.0,523.9 862.4,524.6 864.9,524.3 C868.3,523.9 872.0,520.4 876.2,517.5 C882.1,513.4 889.4,506.1 896.6,501.6 C903.8,497.1 911.3,493.6 919.3,490.3 C927.8,486.8 937.4,483.9 946.5,481.2 C955.5,478.6 965.3,477.9 973.7,474.4 C981.9,471.0 988.6,464.6 996.4,460.8 C1004.0,457.1 1016.1,453.9 1020.0,451.7 C1021.4,450.9 1021.3,450.4 1022.7,449.6 C1026.5,447.4 1037.0,443.6 1045.4,440.5 C1055.5,436.8 1069.3,432.9 1079.4,429.2 C1087.8,426.1 1094.7,423.2 1102.0,420.1 C1109.0,417.1 1116.2,411.9 1122.4,411.1 C1127.3,410.5 1131.3,411.9 1136.1,413.3 C1141.8,415.0 1149.3,421.9 1154.2,421.3 C1157.9,420.9 1160.0,414.8 1163.3,414.5 C1166.8,414.2 1170.6,420.7 1174.6,420.1 C1180.2,419.2 1186.9,404.7 1192.7,402.0 C1196.6,400.2 1200.0,401.0 1204.1,400.9 C1209.0,400.8 1215.8,404.6 1220.0,402.0 C1225.7,398.4 1228.3,374.6 1231.3,374.8 C1234.3,375.0 1236.1,402.0 1238.1,402.0 C1239.8,402.0 1241.0,388.1 1242.6,381.6 C1244.1,375.7 1244.5,365.4 1247.2,364.6 C1249.4,363.9 1253.3,370.3 1256.2,372.5 C1258.6,374.3 1261.0,374.8 1263.0,377.1 C1265.7,380.2 1267.0,390.2 1269.8,390.7 C1272.4,391.1 1275.2,383.5 1278.9,381.6 C1282.7,379.6 1288.5,378.0 1292.5,379.3 C1296.9,380.7 1300.7,391.4 1303.9,390.7 C1307.9,389.8 1308.5,369.3 1312.9,366.8 C1315.6,365.2 1319.0,367.5 1322.7,368.5 C1327.9,369.9 1336.2,377.0 1340.8,375.4 C1345.1,373.9 1345.5,362.2 1349.9,360.6 C1354.5,358.9 1361.6,365.0 1368.0,366.3 C1375.1,367.7 1382.8,368.8 1390.7,368.5 C1399.4,368.2 1409.8,363.7 1417.9,364.0 C1424.6,364.3 1430.8,365.5 1436.1,368.5 C1441.5,371.5 1445.3,377.4 1449.7,382.2 C1454.3,387.2 1459.7,391.6 1463.3,398.0 C1467.5,405.5 1468.9,417.5 1472.3,425.2 C1475.1,431.4 1477.9,440.4 1481.4,441.1 C1484.1,441.7 1487.9,437.7 1490.5,434.3 C1494.4,429.3 1495.2,416.3 1499.5,411.6 C1502.6,408.2 1507.3,405.5 1510.9,406.0 C1514.9,406.6 1519.0,412.0 1522.2,416.2 C1525.9,421.1 1527.9,429.3 1531.3,434.3 C1534.1,438.4 1537.3,444.3 1540.4,444.5 C1543.3,444.7 1547.0,440.5 1549.4,436.6 C1552.9,430.9 1553.8,419.5 1556.2,411.6 C1558.4,404.4 1559.6,397.3 1563.0,391.2 C1566.4,385.2 1571.4,380.2 1576.6,375.4 C1582.0,370.4 1588.6,363.8 1594.8,361.7 C1600.0,360.0 1606.9,359.3 1610.7,361.7 C1614.4,364.0 1615.4,369.3 1617.5,375.4 C1621.1,386.0 1623.6,404.7 1626.5,420.7 C1629.7,438.5 1632.9,458.5 1635.6,477.4 C1638.2,496.3 1640.1,515.4 1642.4,534.1 C1644.6,552.4 1646.5,576.5 1649.2,588.5 C1650.6,594.6 1652.0,602.0 1653.7,602.1 C1655.3,602.2 1657.4,595.4 1659.1,590.8 C1661.6,584.2 1662.1,570.5 1665.9,565.8 C1668.3,562.9 1672.5,564.5 1674.9,561.3 C1679.6,555.0 1679.8,535.4 1681.7,522.7 C1683.6,510.5 1682.9,487.7 1686.3,486.5 C1688.1,485.9 1691.3,489.6 1693.1,493.3 C1696.7,500.9 1696.1,520.1 1697.6,534.1 C1699.2,548.8 1700.3,566.9 1702.2,579.4 C1703.5,588.3 1704.7,601.9 1706.7,602.1 C1708.5,602.3 1711.5,589.6 1713.5,584.0 C1715.2,579.2 1715.9,570.6 1718.0,570.4 C1720.3,570.2 1724.6,586.6 1727.1,586.2 C1730.3,585.7 1732.1,567.5 1733.9,556.8 C1736.0,544.3 1736.7,528.1 1738.4,515.9 C1739.8,505.9 1740.4,496.7 1743.0,488.7 C1745.2,481.9 1748.8,477.0 1752.0,470.6 C1755.6,463.5 1758.7,453.8 1763.4,447.9 C1767.3,443.0 1771.8,439.2 1777.0,436.6 C1782.3,433.9 1791.4,430.1 1795.1,432.0 C1798.1,433.5 1798.3,438.2 1799.7,443.4 C1802.4,453.4 1803.7,474.3 1806.5,488.7 C1809.1,502.1 1811.1,517.6 1815.5,527.3 C1818.6,534.1 1823.5,537.6 1826.9,543.2 C1830.3,548.9 1832.9,561.0 1835.9,561.3 C1838.2,561.5 1840.7,556.3 1842.7,552.2 C1845.8,545.8 1846.3,531.4 1850.0,525.1 C1852.5,520.9 1856.2,515.6 1859.1,516.1 C1863.2,516.8 1867.4,539.0 1870.4,538.7 C1873.3,538.4 1874.4,523.1 1877.2,516.1 C1879.8,509.6 1883.5,504.7 1886.3,497.9 C1889.6,489.8 1892.4,480.0 1895.4,470.7 C1898.5,461.1 1899.9,448.7 1904.4,441.2 C1908.0,435.2 1913.0,431.4 1918.0,427.6 C1922.9,423.9 1929.2,422.7 1933.9,418.5 C1939.1,413.9 1942.3,404.1 1947.5,400.4 C1951.6,397.4 1957.6,394.8 1961.1,395.9 C1964.2,396.9 1965.7,401.1 1967.9,404.9 C1971.0,410.2 1972.4,421.9 1977.0,425.4 C1980.6,428.2 1987.0,429.4 1990.6,427.6 C1995.0,425.4 1995.6,411.0 1999.7,409.5 C2002.8,408.3 2007.7,413.9 2011.0,414.0 C2013.5,414.1 2015.7,413.4 2017.8,411.7 C2021.2,408.9 2023.0,400.1 2026.9,395.9 C2030.6,391.9 2035.8,387.8 2040.5,386.8 C2044.9,385.9 2050.4,386.6 2054.1,389.1 C2058.3,392.0 2060.5,399.5 2063.2,404.9 C2065.8,410.1 2068.0,414.5 2070.0,420.8 C2072.8,429.5 2073.8,452.3 2076.8,452.6 C2079.3,452.9 2082.8,439.0 2085.8,432.2 C2088.8,425.4 2090.1,416.3 2094.9,411.7 C2099.4,407.5 2108.0,407.1 2113.0,404.9 C2116.6,403.3 2118.3,401.5 2122.1,400.4 C2127.9,398.7 2137.2,398.5 2144.8,398.1 C2152.4,397.7 2160.4,399.0 2167.5,398.1 C2173.9,397.3 2180.0,395.2 2185.6,393.6 C2190.5,392.2 2194.6,390.2 2199.2,389.1 C2203.7,388.0 2209.7,390.0 2212.8,386.8 C2217.4,382.1 2214.0,362.1 2216.8,356.6 C2218.1,354.0 2221.7,351.8 2221.7,351.8" fill="none" stroke="#b27a95" stroke-width="5.6" stroke-linejoin="round" stroke-linecap="round"/>
<path d="M222.0,117.8 C222.0,117.8 237.8,119.8 246.1,120.2 C255.0,120.6 265.4,119.5 273.9,120.2 C281.3,120.8 288.5,124.4 294.4,123.8 C299.0,123.3 301.5,120.3 306.5,119.0 C314.2,117.0 327.8,115.5 336.6,115.3 C343.4,115.1 348.2,116.0 354.7,116.5 C362.2,117.1 374.1,116.7 378.9,119.0 C381.4,120.2 382.2,121.9 383.7,123.8 C385.5,126.1 387.0,129.2 388.5,132.2 C390.2,135.6 391.4,139.3 393.3,143.1 C395.4,147.4 397.3,154.2 400.6,156.4 C403.2,158.2 407.7,158.5 410.2,157.6 C412.3,156.9 413.7,155.1 415.1,152.7 C417.3,148.9 417.1,138.8 419.9,135.8 C421.8,133.8 424.5,133.7 427.1,133.4 C430.1,133.1 433.8,133.4 436.8,134.6 C439.9,135.8 442.5,138.3 445.2,140.7 C448.2,143.4 450.8,147.0 453.7,150.3 C456.8,153.8 460.3,157.4 463.3,161.2 C466.4,165.0 468.9,168.8 472.0,173.1 C475.7,178.2 480.1,184.4 484.1,190.0 C488.1,195.6 491.9,201.7 496.1,206.9 C500.0,211.7 504.1,216.0 508.2,220.1 C512.1,224.0 516.3,227.4 520.3,231.0 C524.3,234.6 528.3,238.3 532.3,241.9 C536.3,245.5 540.3,249.2 544.4,252.7 C548.4,256.1 551.8,259.8 556.5,262.4 C561.7,265.2 568.5,267.0 574.6,268.4 C580.6,269.8 586.7,269.8 592.7,270.8 C598.7,271.8 604.8,273.4 610.8,274.4 C616.8,275.4 622.9,276.1 628.9,276.9 C634.9,277.7 641.0,279.3 647.0,279.3 C653.0,279.3 659.8,278.5 665.1,276.9 C669.6,275.5 673.2,273.1 677.1,270.8 C681.2,268.3 685.3,265.5 689.2,262.4 C693.3,259.1 697.1,255.0 701.2,251.5 C705.2,248.1 709.5,244.3 713.3,241.9 C716.3,240.0 718.9,239.1 722.0,237.6 C725.7,235.8 730.2,234.2 734.1,231.7 C738.3,229.0 742.6,223.6 746.1,222.0 C748.3,221.0 750.3,220.2 752.2,220.8 C754.4,221.5 756.4,224.4 758.2,226.9 C760.5,230.1 762.6,234.5 764.2,238.9 C765.9,243.7 766.7,248.8 767.8,254.6 C769.2,261.8 770.3,270.7 771.5,278.8 C772.7,286.8 773.9,294.9 775.1,302.9 C776.3,310.9 777.1,319.9 778.7,327.0 C780.0,332.8 780.9,341.4 783.5,342.7 C785.1,343.5 787.9,342.0 789.6,340.3 C792.0,337.8 792.9,331.6 794.4,327.0 C796.1,322.0 797.4,316.0 799.2,311.3 C800.7,307.3 802.1,303.3 804.0,300.5 C805.5,298.4 807.1,297.0 808.9,295.6 C810.7,294.2 812.9,292.0 814.9,292.0 C816.9,292.0 819.2,293.7 820.9,295.6 C823.1,298.1 824.0,303.3 825.8,306.5 C827.3,309.2 829.0,313.7 830.6,313.7 C832.2,313.7 834.0,309.5 835.4,306.5 C837.3,302.4 838.5,296.4 840.2,290.8 C842.1,284.4 844.3,277.2 846.3,270.3 C848.3,263.2 850.5,255.6 852.3,248.6 C854.0,242.0 855.4,235.2 857.1,229.3 C858.6,224.1 860.1,219.4 862.0,214.8 C863.8,210.5 865.7,206.4 868.0,202.7 C870.2,199.2 872.3,195.7 875.2,193.1 C878.0,190.5 881.4,188.7 884.9,187.1 C888.6,185.4 893.0,184.8 897.0,183.4 C901.0,182.0 905.0,180.0 909.0,178.6 C913.0,177.2 917.1,176.4 921.1,175.0 C925.1,173.6 928.7,171.8 933.1,170.2 C938.5,168.2 944.9,165.9 951.2,164.1 C957.8,162.2 965.4,161.3 972.0,159.3 C978.3,157.4 984.0,154.4 990.1,152.4 C996.1,150.5 1002.1,149.0 1008.2,147.6 C1014.2,146.2 1020.3,145.0 1026.3,143.9 C1032.3,142.8 1037.9,141.7 1044.4,140.9 C1051.8,140.0 1060.5,139.6 1068.5,139.1 C1076.6,138.6 1086.1,138.7 1092.7,137.9 C1097.4,137.3 1100.8,136.2 1104.7,135.5 C1108.4,134.8 1113.2,135.5 1115.6,133.7 C1117.7,132.2 1117.2,127.9 1119.2,126.5 C1121.4,124.9 1125.5,125.3 1128.9,125.2 C1132.7,125.0 1137.6,124.9 1140.9,125.8 C1143.4,126.5 1145.0,127.6 1147.0,128.9 C1149.1,130.2 1150.6,132.6 1153.0,133.7 C1155.7,134.9 1159.6,134.2 1162.6,135.5 C1165.7,136.8 1168.2,141.4 1171.1,141.5 C1173.9,141.6 1176.5,137.9 1179.5,136.7 C1182.5,135.5 1185.8,134.8 1189.2,134.3 C1193.0,133.7 1197.2,133.5 1201.2,133.7 C1205.2,133.9 1209.6,135.5 1213.3,135.5 C1216.4,135.5 1219.1,135.3 1222.0,134.3 C1225.3,133.1 1228.9,127.6 1231.7,128.3 C1235.0,129.1 1237.7,141.8 1240.1,141.5 C1243.1,141.1 1243.7,120.0 1247.3,118.6 C1249.6,117.7 1253.3,121.7 1255.8,123.4 C1258.0,124.9 1259.9,126.4 1261.8,128.3 C1263.9,130.4 1265.0,134.3 1267.8,135.5 C1271.3,137.0 1277.8,135.4 1282.3,134.3 C1286.6,133.3 1290.5,130.0 1294.4,129.5 C1297.7,129.1 1301.0,131.5 1304.0,130.7 C1307.1,129.9 1309.7,126.6 1312.5,124.6 C1315.3,122.6 1317.9,119.2 1320.9,118.6 C1323.9,118.0 1327.8,119.4 1330.6,121.0 C1333.4,122.6 1335.4,127.6 1337.8,128.3 C1339.5,128.8 1341.1,128.1 1342.7,127.1 C1345.1,125.6 1347.5,118.5 1349.9,118.6 C1352.4,118.7 1353.7,126.2 1357.1,128.3 C1361.0,130.7 1367.9,131.0 1372.8,130.7 C1377.1,130.4 1380.8,128.1 1384.9,127.1 C1388.9,126.1 1393.0,125.2 1397.0,124.6 C1401.0,124.0 1404.6,123.9 1409.0,123.4 C1414.4,122.8 1420.6,121.8 1427.1,121.0 C1434.6,120.1 1443.5,119.1 1451.2,118.6 C1458.4,118.1 1465.5,118.7 1472.0,118.0 C1477.8,117.4 1483.6,114.0 1488.4,115.0 C1492.8,116.0 1496.2,119.3 1499.8,123.0 C1504.6,127.9 1509.3,135.1 1513.4,143.4 C1518.8,154.4 1523.3,170.1 1527.0,184.2 C1530.9,198.8 1533.1,214.0 1536.1,229.5 C1539.2,245.7 1542.5,262.2 1545.1,279.4 C1547.8,297.7 1549.8,317.8 1551.9,336.1 C1553.9,353.3 1555.6,386.0 1557.6,386.0 C1559.4,386.0 1561.2,362.2 1563.3,347.5 C1566.0,328.0 1569.1,301.0 1572.3,279.4 C1575.2,259.6 1577.7,240.2 1581.4,222.7 C1584.7,207.3 1587.4,191.8 1592.7,179.7 C1597.0,169.9 1602.6,159.4 1608.6,154.7 C1612.8,151.4 1617.9,150.3 1622.2,150.2 C1626.2,150.1 1630.3,150.9 1633.6,153.6 C1638.3,157.5 1641.8,166.2 1644.9,175.1 C1649.3,187.6 1651.4,206.1 1654.0,222.7 C1656.8,240.7 1659.2,263.9 1660.8,279.4 C1661.9,290.1 1661.9,306.6 1663.0,306.6 C1664.1,306.6 1665.8,289.8 1667.6,279.4 C1670.1,265.3 1673.3,244.8 1676.6,229.5 C1679.4,216.4 1681.2,200.7 1685.7,193.3 C1688.3,189.1 1691.2,185.7 1694.8,185.3 C1699.2,184.9 1705.5,194.1 1710.7,194.4 C1715.3,194.7 1720.3,191.6 1724.3,188.7 C1728.6,185.7 1731.2,179.1 1735.6,176.3 C1739.6,173.7 1745.1,174.8 1749.2,171.7 C1754.5,167.8 1758.1,159.8 1762.8,152.4 C1768.7,143.0 1775.6,120.2 1781.0,119.6 C1784.2,119.2 1787.1,125.7 1790.0,129.8 C1793.5,134.8 1796.3,143.2 1800.0,147.9 C1803.0,151.7 1807.2,152.4 1809.8,156.8 C1813.7,163.4 1813.8,179.1 1817.1,186.0 C1819.2,190.4 1822.3,191.4 1824.4,195.8 C1827.7,202.7 1829.4,214.7 1831.7,225.0 C1834.3,236.5 1837.0,249.4 1839.0,261.6 C1841.0,273.7 1840.6,290.1 1843.9,298.1 C1845.8,302.7 1849.0,303.8 1851.2,307.9 C1854.2,313.6 1856.1,322.5 1858.5,329.8 C1860.9,337.1 1863.4,345.3 1865.8,351.8 C1867.8,357.2 1870.0,366.5 1871.9,366.4 C1874.1,366.3 1876.1,354.1 1878.0,346.9 C1880.3,338.2 1882.2,327.9 1884.1,317.6 C1886.3,306.1 1888.2,294.6 1890.2,281.1 C1892.7,264.4 1895.4,242.6 1897.5,225.0 C1899.4,209.5 1900.2,192.3 1902.4,181.1 C1903.8,174.0 1904.4,165.6 1907.3,164.1 C1909.2,163.1 1912.2,165.7 1914.6,166.5 C1917.0,167.3 1919.7,169.7 1921.9,168.9 C1924.8,167.8 1926.9,161.1 1929.2,156.8 C1931.7,152.2 1933.3,142.9 1936.5,142.1 C1939.2,141.4 1943.1,148.9 1946.3,149.4 C1948.8,149.8 1951.3,148.8 1953.6,147.0 C1957.1,144.3 1960.4,137.4 1963.3,132.4 C1966.1,127.6 1967.5,120.5 1970.6,117.8 C1972.7,115.9 1975.8,114.4 1977.9,115.3 C1981.2,116.7 1983.2,126.9 1985.3,132.4 C1987.2,137.4 1987.8,144.3 1990.1,147.0 C1991.5,148.6 1993.4,149.9 1995.0,149.4 C1997.6,148.6 1998.6,139.8 2002.3,137.3 C2006.4,134.6 2014.2,134.7 2019.4,134.8 C2023.8,134.9 2028.0,135.4 2031.6,137.3 C2035.4,139.3 2037.2,145.0 2041.3,147.0 C2045.9,149.3 2052.4,148.3 2058.4,149.4 C2065.3,150.6 2074.1,152.4 2080.3,154.3 C2085.0,155.8 2088.7,157.3 2092.5,159.2 C2096.0,161.0 2098.6,164.7 2102.3,165.3 C2106.6,166.0 2112.2,162.4 2116.9,161.6 C2121.1,160.9 2124.7,161.1 2129.1,160.4 C2134.3,159.6 2140.2,157.2 2146.1,156.8 C2152.3,156.3 2159.8,159.7 2165.6,158.0 C2171.2,156.3 2175.6,150.4 2180.3,147.0 C2184.5,143.9 2188.6,138.8 2192.5,138.5 C2195.8,138.3 2199.2,143.4 2202.2,143.4 C2204.8,143.4 2207.4,141.9 2209.5,139.7 C2212.7,136.3 2214.5,127.5 2216.8,122.6 C2218.5,118.9 2221.7,112.9 2221.7,112.9" fill="none" stroke="#000000" stroke-width="6.8" stroke-linejoin="round" stroke-linecap="round"/>
<g fill="#000">
<rect x="219" y="32" width="2006.5" height="3.3" fill="#b4b4b4"/>
<rect x="215.5" y="35" width="3.5" height="1617" fill="#d8d8d8"/>
<rect x="215.5" y="1649" width="2010" height="3.6" fill="#808080"/>
<rect x="219" y="35.3" width="2006.5" height="7.5"/>
<rect x="219" y="1642" width="2006.5" height="7"/>
<rect x="219" y="35.3" width="7" height="1613.7"/>
<rect x="2218.3" y="35.3" width="7.2" height="1613.7"/>
<rect x="773.8" y="1616" width="7" height="27"/>
<rect x="1329.1" y="1616" width="7" height="27"/>
<rect x="1884.4" y="1616" width="7" height="27"/>
<rect x="496.3" y="1631" width="6.8" height="12"/>
<rect x="1051.5" y="1631" width="6.8" height="12"/>
<rect x="1606.8" y="1631" width="6.8" height="12"/>
<rect x="2162.2" y="1631" width="6.8" height="12"/>
</g>
</svg>
</body></html>
